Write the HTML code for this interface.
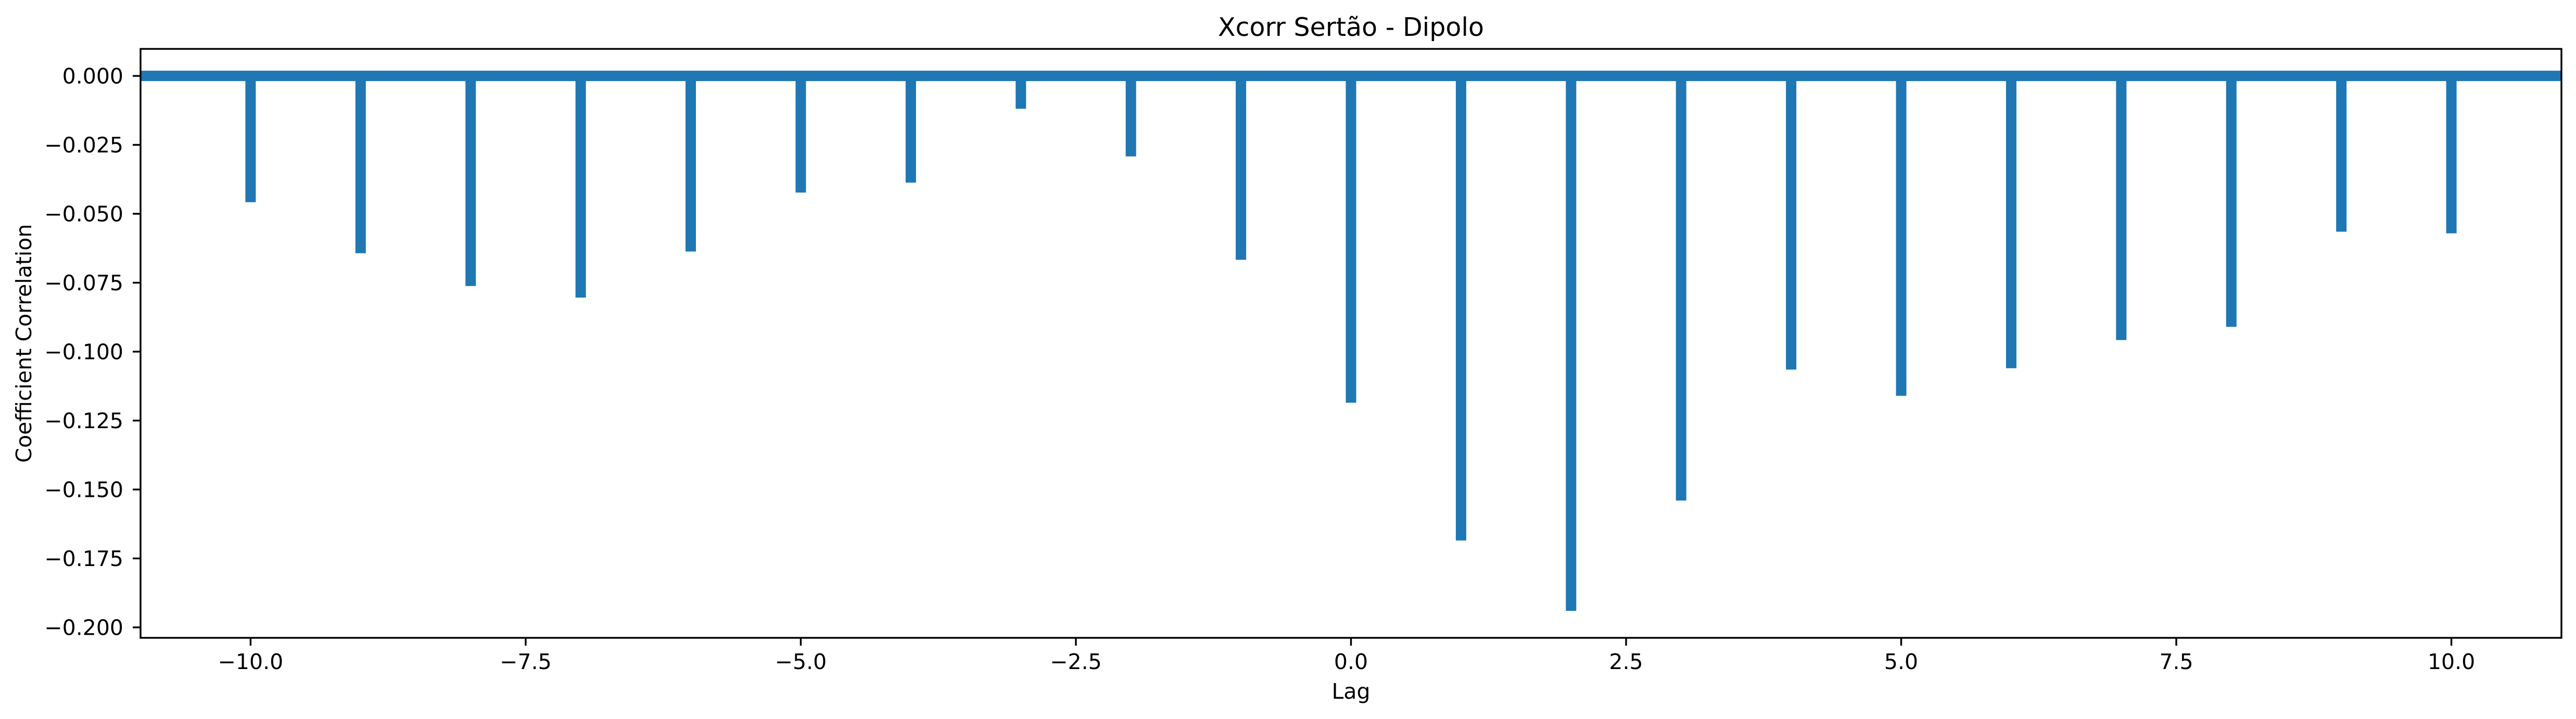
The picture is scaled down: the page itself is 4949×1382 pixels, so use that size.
<!DOCTYPE html>
<html><head><meta charset="utf-8"><style>
html,body{margin:0;padding:0;background:#fff;}
svg{display:block;}
text{font-family:"DejaVu Sans","Liberation Sans",sans-serif;fill:#000;}
</style></head><body>
<svg id="chart" width="4949" height="1382" viewBox="0 0 4949 1382" xmlns="http://www.w3.org/2000/svg">
<rect x="0" y="0" width="4949" height="1382" fill="#fff"/>
<g id="marks"></g>
<g id="axes"></g>
<text x="2595.5" y="69" font-size="49" text-anchor="middle">Xcorr Sertão - Dipolo</text>
<text x="2595.5" y="1343" font-size="41" text-anchor="middle">Lag</text>
<text x="0" y="0" font-size="41" text-anchor="middle" transform="translate(60,660) rotate(-90)">Coefficient Correlation</text>
</svg>
<script>
const lags = [-10,-9,-8,-7,-6,-5,-4,-3,-2,-1,0,1,2,3,4,5,6,7,8,9,10];
const corrValues = [-0.0458,-0.0643,-0.0762,-0.0804,-0.0637,-0.0423,-0.0387,-0.0119,-0.0292,-0.0667,-0.1185,-0.1685,-0.194,-0.154,-0.1065,-0.116,-0.106,-0.0958,-0.091,-0.0565,-0.0571];
const xTicks = [-10,-7.5,-5,-2.5,0,2.5,5,7.5,10];
const xTickLabels = ["\u221210.0","\u22127.5","\u22125.0","\u22122.5","0.0","2.5","5.0","7.5","10.0"];
const yTicks = [0,-0.025,-0.05,-0.075,-0.1,-0.125,-0.15,-0.175,-0.2];
const yTickLabels = ["0.000","\u22120.025","\u22120.050","\u22120.075","\u22120.100","\u22120.125","\u22120.150","\u22120.175","\u22120.200"];

const L=270,R=4921,T=94,B=1226;
const xMin=-11,xMax=11,yMin=-0.2038,yMax=0.0098;
function xs(v){return L+(v-xMin)/(xMax-xMin)*(R-L);}
function ys(v){return T+(yMax-v)/(yMax-yMin)*(B-T);}
const NS="http://www.w3.org/2000/svg";
const marks=document.getElementById('marks');
const axes=document.getElementById('axes');
function mk(tag,attrs,parent){const e=document.createElementNS(NS,tag);for(const k in attrs)e.setAttribute(k,attrs[k]);parent.appendChild(e);return e;}

lags.forEach((lag,i)=>{
  const l=mk('line',{x1:xs(lag),x2:xs(lag),y1:ys(0),y2:ys(corrValues[i]),stroke:'#1f77b4','stroke-width':20},marks);
  
  
});
const zl=mk('line',{x1:L,x2:R,y1:ys(0),y2:ys(0),stroke:'#1f77b4','stroke-width':20},marks);



const frame=mk('rect',{x:L,y:T,width:R-L,height:B-T,fill:'none',stroke:'#000','stroke-width':3.4},axes);



xTicks.forEach((t,i)=>{
  const x=xs(t);
  const tk=mk('line',{x1:x,x2:x,y1:B,y2:B+15,stroke:'#000','stroke-width':3.4},axes);
  
  
  const tx=mk('text',{x:x,y:1286,'font-size':41,'text-anchor':'middle'},axes);
  tx.textContent=xTickLabels[i];
  
  
});
yTicks.forEach((t,i)=>{
  const y=ys(t);
  const tk=mk('line',{x1:L-15,x2:L,y1:y,y2:y,stroke:'#000','stroke-width':3.4},axes);
  
  
  const tx=mk('text',{x:237,y:y+14.5,'font-size':41,'text-anchor':'end'},axes);
  tx.textContent=yTickLabels[i];
  
  
});
</script>
</body></html>
